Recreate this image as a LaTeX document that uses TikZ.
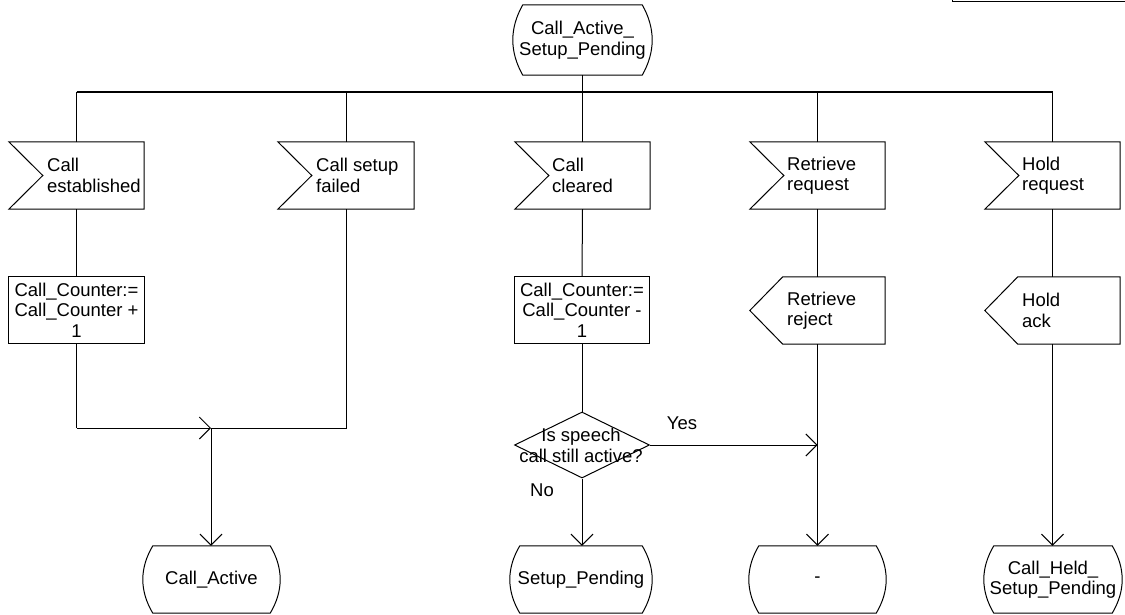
\documentclass[tikz,border=0pt]{standalone}
\usepackage{fontspec}
\setmainfont{Liberation Sans}
\usetikzlibrary{arrows.meta,shapes.geometric,calc}
\tikzset{
 x=1pt,y=-1pt,
 ln/.style={line width=1pt, draw=black},
 box/.style={rectangle, inner sep=0pt, minimum width=135pt, minimum height=67pt},
 txt/.style={inner sep=0pt, align=left, font=\fontsize{18.5}{20.5}\selectfont},
 ctxt/.style={txt, align=center},
 arr/.style={-{Straight Barb[length=11pt,width=22pt,line width=1pt]}},
 dec/.style={diamond, draw=black, line width=1pt, inner sep=0pt, minimum width=135pt, minimum height=66pt},
}
\newcommand\sdlIn[1]{\draw[ln] (#1.north west) -- (#1.north east) -- (#1.south east) -- (#1.south west) -- ($(#1.west)+(34,0)$) -- cycle;}
\newcommand\sdlOut[1]{\draw[ln] ($(#1.north west)+(33,0)$) -- (#1.north east) -- (#1.south east) -- ($(#1.south west)+(33,0)$) -- (#1.west) -- cycle;}
\newcommand\sdlTask[1]{\draw[ln] (#1.north west) rectangle (#1.south east);}
\newcommand\sdlState[1]{\draw[ln] ($(#1.north west)+(10,0)$) -- ($(#1.north east)+(-10,0)$)
  .. controls ($(#1.north east)!0.333!(#1.south east)+(3.33,0)$) and ($(#1.north east)!0.667!(#1.south east)+(3.33,0)$) .. ($(#1.south east)+(-10,0)$)
  -- ($(#1.south west)+(10,0)$)
  .. controls ($(#1.north west)!0.667!(#1.south west)+(-3.33,0)$) and ($(#1.north west)!0.333!(#1.south west)+(-3.33,0)$) .. ($(#1.north west)+(10,0)$) -- cycle;}
\begin{document}
\begin{tikzpicture}
\useasboundingbox (0,0) rectangle (1125,615);
\fill[white] (0,0) rectangle (1125,615);
% top-right frame fragment
\draw[ln] (952,-3) -- (952,1.5) -- (1130,1.5);

% start state
\node[box, minimum width=139pt, minimum height=70pt] (S) at (582.5,40) {};
\sdlState{S}
\node[ctxt] (St) at (S) {Call\_Active\_\\Setup\_Pending};

\coordinate (bar) at (0,92);

% input signals
\node[box] (E) at (76.5,175.5) {}; \sdlIn{E}
\node[txt, anchor=west] (Et) at (47,175.5) {Call\\established};
\node[box, minimum width=136pt] (F) at (346,175.5) {}; \sdlIn{F}
\node[txt, anchor=west] (Ft) at (316,175.5) {Call setup\\failed};
\node[box] (C) at (582.5,175.5) {}; \sdlIn{C}
\node[txt, anchor=west] (Ct) at (552,175.5) {Call\\cleared};
\node[box] (RR) at (817.5,175.5) {}; \sdlIn{RR}
\node[txt, anchor=west] (RRt) at (787,175.5) {Retrieve\\request};
\node[box] (HR) at (1052.5,175.5) {}; \sdlIn{HR}
\node[txt, anchor=west] (HRt) at (1022,175.5) {Hold\\request};

% row 2
\node[box, minimum height=66pt] (T1) at (76.5,310) {}; \sdlTask{T1}
\node[ctxt] (T1t) at (T1) {Call\_Counter:=\\Call\_Counter +\\1};
\node[box, minimum height=66pt] (T2) at (582,310) {}; \sdlTask{T2}
\node[ctxt] (T2t) at (T2) {Call\_Counter:=\\Call\_Counter -\\1};
\node[box] (RJ) at (817.5,310.5) {}; \sdlOut{RJ}
\node[txt, anchor=west] (RJt) at (787,310.5) {Retrieve\\reject};
\node[box] (HA) at (1052.5,310.5) {}; \sdlOut{HA}
\node[txt, anchor=west] (HAt) at (1022,310.5) {Hold\\ack};

% decision
\node[dec] (D) at (582,445) {};
\node[ctxt] (Dt) at (581,445.5) {Is speech\\call still active?};
\node[ctxt] (Yes) at (682,423) {Yes};
\node[ctxt] (No) at (542,490) {No};

% end states
\node[box, minimum width=137pt] (CA) at (211.5,579.5) {}; \sdlState{CA}
\node[ctxt] (CAt) at (CA) {Call\_Active};
\node[box, minimum width=142pt] (SP) at (581,579.5) {}; \sdlState{SP}
\node[ctxt] (SPt) at (SP) {Setup\_Pending};
\node[box, minimum width=137pt] (DS) at (817.5,579.5) {}; \sdlState{DS}
\node[ctxt] (DSt) at (DS) {-};
\node[box, minimum width=138pt] (CH) at (1053,579.5) {}; \sdlState{CH}
\node[ctxt] (CHt) at (CH) {Call\_Held\_\\Setup\_Pending};

% distribution bar
\draw[ln] (S.south) -- (S.south |- bar);
\draw[line width=1.3pt] (E.north |- bar) -- (HR.north |- bar);
\foreach \n in {E,F,C,RR,HR} { \draw[ln] (\n.north |- bar) -- (\n.north); }

% branch 1 and 2
\coordinate (M) at (211,428);
\draw[ln] (E.south) -- (T1.north);
\draw[ln] (T1.south) -- (T1.south |- M);
\draw[ln,arr] (T1.south |- M) -- (M);
\draw[ln] (F.south) -- (F.south |- M) -- (M);
\draw[ln,arr] (M) -- (CA.north -| M);

% branch 3
\draw[ln] (C.south) -- (T2.north);
\draw[ln] (T2.south) -- (D.north);
\draw[ln,arr] (D.south) -- (SP.north -| D.south);
\draw[ln,arr] (D.east) -- (D.east -| RJ.south);

% branch 4
\draw[ln] (RR.south) -- (RJ.north);
\draw[ln,arr] (RJ.south) -- (DS.north);

% branch 5
\draw[ln] (HR.south) -- (HA.north);
\draw[ln,arr] (HA.south) -- (CH.north -| HA.south);
\end{tikzpicture}
\end{document}
